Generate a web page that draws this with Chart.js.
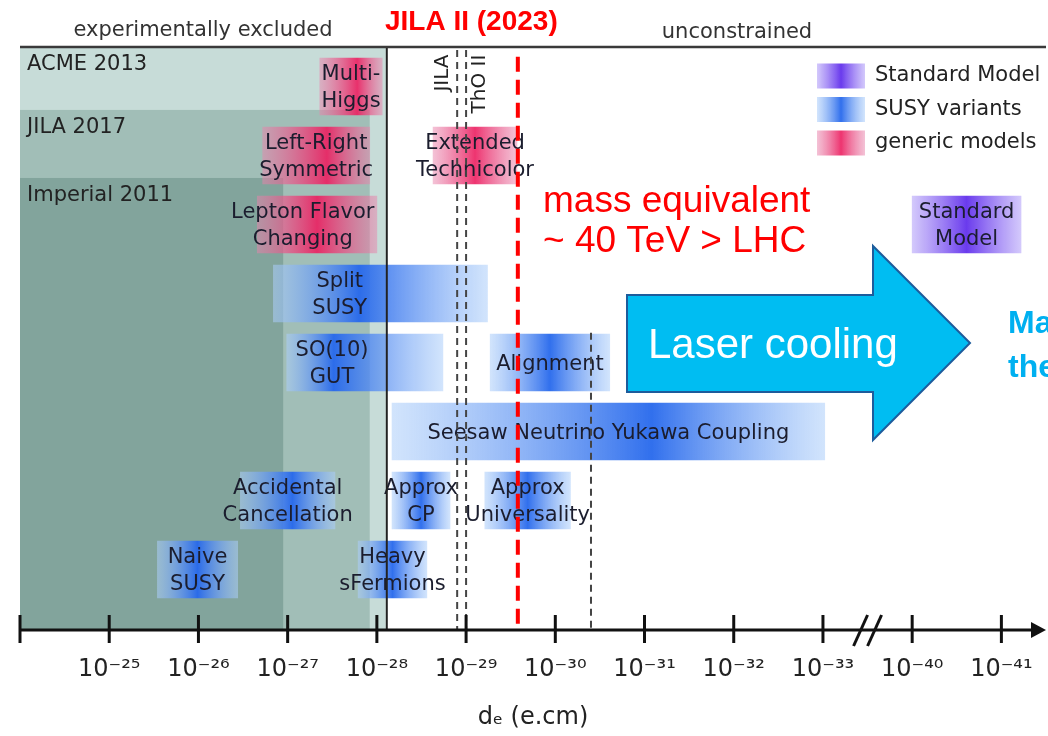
<!DOCTYPE html>
<html>
<head>
<meta charset="utf-8">
<title>Electron EDM - model landscape</title>
<script src="https://cdn.jsdelivr.net/npm/chart.js@4.4.0/dist/chart.umd.min.js"></script>
<style>
  html, body { margin: 0; padding: 0; background: #fff; }
  #wrap { width: 1048px; height: 736px; position: relative; }
</style>
</head>
<body>
<div id="wrap"><canvas id="edmChart"></canvas></div>
<script>
// ===============================
// DATA (values are log10 of d_e in e.cm)
// ===============================
const modelNames = [
  "Multi-\nHiggs", "Left-Right\nSymmetric", "Extended\nTechnicolor",
  "Lepton Flavor\nChanging", "Split\nSUSY", "SO(10)\nGUT", "Alignment",
  "Seesaw Neutrino Yukawa Coupling", "Accidental\nCancellation",
  "Approx\nCP", "Approx\nUniversality", "Naive\nSUSY", "Heavy\nsFermions",
  "Standard\nModel"
];
const modelFamily = [
  "generic", "generic", "generic", "generic", "susy", "susy", "susy",
  "susy", "susy", "susy", "susy", "susy", "susy", "sm"
];
const modelRow = [0, 1, 1, 2, 3, 4, 4, 5, 6, 6, 6, 7, 7, 2];
const modelFrom = [-27.36, -26.72, -28.63, -26.66, -26.84, -26.99, -29.27,
  -28.17, -26.47, -28.17, -29.21, -25.54, -27.79, -40.0];
const modelTo = [-28.06, -27.92, -29.57, -28.0, -29.24, -28.74, -30.61,
  -33.02, -27.53, -28.82, -30.17, -26.44, -28.56, -41.22];

// experimental limits (shaded = excluded)
const excludedNames = ["ACME 2013", "JILA 2017", "Imperial 2011"];
const excludedLimits = [-28.1, -27.92, -26.95];
const excludedTopRows = [-0.572, 0.34, 1.326];

// dashed limit lines
const dashedNames = ["JILA", "ThO II", ""];
const dashedLimits = [-28.9, -29.0, -30.4];
const dashedTopRows = [-0.53, -0.53, 3.57];
const jilaIILimit = -29.58;

// axis ticks
const tickExponents = [-24, -25, -26, -27, -28, -29, -30, -31, -32, -33, -40, -41];

const familyNames = ["sm", "susy", "generic"];
const familyLabels = ["Standard Model", "SUSY variants", "generic models"];

// ===============================
// STYLE
// ===============================
const familyColors = {
  sm: { core: "rgba(98, 48, 236, 0.95)", edge: "rgba(196, 182, 250, 0.75)" },
  susy: { core: "rgba(38, 104, 236, 0.95)", edge: "rgba(172, 206, 250, 0.55)" },
  generic: { core: "rgba(236, 30, 96, 0.9)", edge: "rgba(232, 132, 172, 0.5)" }
};
const gradientPeak = {
  "Multi-\nHiggs": 0.6, "Left-Right\nSymmetric": 0.6, "Split\nSUSY": 0.4,
  "SO(10)\nGUT": 0.3, "Seesaw Neutrino Yukawa Coupling": 0.6,
  "Accidental\nCancellation": 0.55
};
const labelAnchor = { "Split\nSUSY": 0.31, "SO(10)\nGUT": 0.29, "Lepton Flavor\nChanging": 0.38 };
const regionColors = ["#c7dcd8", "#a1beb7", "#82a49c"];
const SANS = "'DejaVu Sans', sans-serif";
const ARIAL = "'Liberation Sans', Arial, sans-serif";

// -------------------------------
// HELPERS
// -------------------------------
// the axis is broken between 10^-33 and 10^-40
function toAxis(exp) {
  const e = -exp;
  return e <= 36 ? e - 24 : e - 30;
}

const SUP = { "-": "\u207B", "0": "\u2070", "1": "\u00B9", "2": "\u00B2", "3": "\u00B3",
  "4": "\u2074", "5": "\u2075", "6": "\u2076", "7": "\u2077", "8": "\u2078", "9": "\u2079" };
function tickLabel(exp) {
  if (exp === -24) return "";
  return "10" + String(exp).split("").map((c) => SUP[c]).join("");
}

function boxGradient(ctx, x0, x1, fam, peak) {
  const g = ctx.createLinearGradient(x0, 0, x1, 0);
  g.addColorStop(0, fam.edge);
  g.addColorStop(peak, fam.core);
  g.addColorStop(1, fam.edge);
  return g;
}

// -------------------------------
// DATASETS (one per model family)
// -------------------------------
const datasets = familyNames.map((fam, fi) => ({
  label: familyLabels[fi],
  data: modelNames
    .map((name, i) => ({
      x: [toAxis(modelFrom[i]), toAxis(modelTo[i])],
      y: modelRow[i],
      name: name,
      fam: modelFamily[i]
    }))
    .filter((d) => d.fam === fam),
  grouped: false,
  barThickness: 57,
  borderWidth: 0,
  borderSkipped: false,
  backgroundColor: (c) => {
    const colors = familyColors[fam];
    if (!c.raw || !c.chart.scales.x) return colors.core;
    const xs = c.chart.scales.x;
    const x0 = xs.getPixelForValue(c.raw.x[0]);
    const x1 = xs.getPixelForValue(c.raw.x[1]);
    if (!isFinite(x0) || !isFinite(x1) || x0 === x1) return colors.core;
    return boxGradient(c.chart.ctx, x0, x1, colors, gradientPeak[c.raw.name] ?? 0.5);
  }
}));

// -------------------------------
// DECORATION PLUGIN
// -------------------------------
const edmDecor = {
  id: "edmDecor",
  beforeDatasetsDraw(chart) {
    const { ctx, chartArea: area } = chart;
    const x = chart.scales.x;
    const y = chart.scales.y;
    ctx.save();
    excludedNames.forEach((name, i) => {
      const right = x.getPixelForValue(toAxis(excludedLimits[i]));
      const top = y.getPixelForValue(excludedTopRows[i]);
      ctx.fillStyle = regionColors[i];
      ctx.fillRect(area.left, top, right - area.left, area.bottom - top);
    });
    ctx.fillStyle = "#222";
    ctx.font = "21px " + SANS;
    ctx.textAlign = "left";
    ctx.textBaseline = "alphabetic";
    excludedNames.forEach((name, i) => {
      const top = y.getPixelForValue(excludedTopRows[i]);
      ctx.fillText(name, area.left + 7, top + 23);
    });
    ctx.restore();
  },

  afterDatasetsDraw(chart) {
    const { ctx, chartArea: area } = chart;
    const x = chart.scales.x;
    const y = chart.scales.y;
    ctx.save();

    // box labels
    ctx.fillStyle = "#1b1d2e";
    ctx.font = "21px " + SANS;
    ctx.textAlign = "center";
    ctx.textBaseline = "middle";
    chart.data.datasets.forEach((ds) => {
      ds.data.forEach((d) => {
        const x0 = x.getPixelForValue(d.x[0]);
        const x1 = x.getPixelForValue(d.x[1]);
        const cx = x0 + (x1 - x0) * (labelAnchor[d.name] ?? 0.5);
        const cy = y.getPixelForValue(d.y) + 2;
        const lines = d.name.split("\n");
        lines.forEach((line, li) => {
          ctx.fillText(line, cx, cy + (li - (lines.length - 1) / 2) * 27);
        });
      });
    });

    // solid boundary of the excluded region
    const edgeX = x.getPixelForValue(toAxis(excludedLimits[0]));
    ctx.strokeStyle = "#222";
    ctx.lineWidth = 2;
    ctx.beginPath();
    ctx.moveTo(edgeX + 1, area.top);
    ctx.lineTo(edgeX + 1, area.bottom);
    ctx.stroke();

    // dashed limits
    ctx.strokeStyle = "#444";
    ctx.setLineDash([7, 5]);
    dashedLimits.forEach((lim, i) => {
      const px = x.getPixelForValue(toAxis(lim));
      ctx.beginPath();
      ctx.moveTo(px, y.getPixelForValue(dashedTopRows[i]));
      ctx.lineTo(px, area.bottom);
      ctx.stroke();
    });
    ctx.setLineDash([]);

    // rotated labels of the dashed limits
    ctx.fillStyle = "#222";
    ctx.font = "20px " + SANS;
    const rotPos = [[-14, 73], [14, 84]];
    dashedNames.forEach((name, i) => {
      if (!name) return;
      const px = x.getPixelForValue(toAxis(dashedLimits[i]));
      ctx.save();
      ctx.translate(px + rotPos[i][0], rotPos[i][1]);
      ctx.rotate(-Math.PI / 2);
      ctx.textAlign = "center";
      ctx.textBaseline = "middle";
      ctx.fillText(name, 0, 0);
      ctx.restore();
    });

    // JILA II (2023) red line
    const redX = x.getPixelForValue(toAxis(jilaIILimit));
    ctx.strokeStyle = "#ff0000";
    ctx.lineWidth = 4;
    ctx.setLineDash([15, 8]);
    ctx.beginPath();
    ctx.moveTo(redX, y.getPixelForValue(-0.43));
    ctx.lineTo(redX, area.bottom);
    ctx.stroke();
    ctx.setLineDash([]);

    // top line + header text
    ctx.strokeStyle = "#3a3a3a";
    ctx.lineWidth = 2.5;
    ctx.beginPath();
    ctx.moveTo(area.left, area.top);
    ctx.lineTo(area.right, area.top);
    ctx.stroke();

    ctx.fillStyle = "#333";
    ctx.font = "21px " + SANS;
    ctx.textAlign = "center";
    ctx.textBaseline = "alphabetic";
    ctx.fillText("experimentally excluded", 203, 36);
    ctx.fillText("unconstrained", 737, 38);

    ctx.fillStyle = "#ff0000";
    ctx.font = "bold 28px " + ARIAL;
    ctx.textAlign = "left";
    ctx.fillText("JILA II (2023)", 385, 30);

    ctx.font = "37px " + ARIAL;
    ctx.fillText("mass equivalent", 543, 212);
    ctx.fillText("~ 40 TeV > LHC", 543, 252);

    // legend
    ctx.font = "21px " + SANS;
    ctx.textBaseline = "middle";
    familyNames.forEach((fam, i) => {
      const cy = 76 + i * 33.5;
      ctx.fillStyle = boxGradient(ctx, 817, 865, familyColors[fam], 0.5);
      ctx.fillRect(817, cy - 12.5, 48, 25);
      ctx.fillStyle = "#222";
      ctx.fillText(familyLabels[i], 875, cy);
    });

    // laser cooling arrow
    ctx.beginPath();
    ctx.moveTo(627, 295);
    ctx.lineTo(873, 295);
    ctx.lineTo(873, 246);
    ctx.lineTo(970, 343);
    ctx.lineTo(873, 440);
    ctx.lineTo(873, 392);
    ctx.lineTo(627, 392);
    ctx.closePath();
    ctx.fillStyle = "#00bdf2";
    ctx.fill();
    ctx.strokeStyle = "#1d5c9c";
    ctx.lineWidth = 2;
    ctx.stroke();
    ctx.fillStyle = "#fff";
    ctx.font = "42px " + ARIAL;
    ctx.textBaseline = "alphabetic";
    ctx.fillText("Laser cooling", 648, 358);

    ctx.fillStyle = "#00b0f0";
    ctx.font = "bold 32px " + ARIAL;
    ctx.fillText("Ma", 1008, 333);
    ctx.fillText("the", 1008, 377);

    // x axis line, ticks, break and arrow head
    const axisY = area.bottom;
    ctx.strokeStyle = "#111";
    ctx.fillStyle = "#111";
    ctx.lineWidth = 3;
    ctx.beginPath();
    ctx.moveTo(area.left, axisY);
    ctx.lineTo(area.right - 10, axisY);
    ctx.stroke();
    x.ticks.forEach((t) => {
      const px = x.getPixelForValue(t.value);
      ctx.beginPath();
      ctx.moveTo(px, axisY - 15);
      ctx.lineTo(px, axisY + 13);
      ctx.stroke();
    });
    const brk = (x.getPixelForValue(toAxis(-33)) + x.getPixelForValue(toAxis(-40))) / 2;
    [-10, 4].forEach((dx) => {
      ctx.beginPath();
      ctx.moveTo(brk + dx - 4, axisY + 16);
      ctx.lineTo(brk + dx + 10, axisY - 15);
      ctx.stroke();
    });
    ctx.beginPath();
    ctx.moveTo(area.right, axisY);
    ctx.lineTo(area.right - 15, axisY - 8);
    ctx.lineTo(area.right - 15, axisY + 8);
    ctx.closePath();
    ctx.fill();

    ctx.restore();
  }
};

// -------------------------------
// CHART
// -------------------------------
const chart = new Chart(document.getElementById("edmChart"), {
  type: "bar",
  data: { datasets: datasets },
  options: {
    responsive: true,
    maintainAspectRatio: false,
    animation: false,
    events: [],
    indexAxis: "y",
    layout: { padding: { left: 20, right: 2, top: 47, bottom: 0 } },
    plugins: {
      legend: { display: false },
      tooltip: { enabled: false }
    },
    scales: {
      x: {
        type: "linear",
        min: 0,
        max: 11.5,
        // invisible tick marks only push the labels down
        grid: {
          display: true,
          drawOnChartArea: false,
          drawTicks: true,
          tickLength: 25,
          color: "rgba(0,0,0,0)"
        },
        border: { display: false },
        afterBuildTicks: (scale) => {
          scale.ticks = tickExponents.map((e) => ({ value: toAxis(e) }));
        },
        afterFit: (scale) => {
          scale.height = 106;
        },
        ticks: {
          autoSkip: false,
          maxRotation: 0,
          padding: 0,
          color: "#222",
          font: { family: SANS, size: 24 },
          callback: (value, index) => tickLabel(tickExponents[index])
        },
        title: {
          display: true,
          text: "d\u2091 (e.cm)",
          color: "#222",
          font: { family: SANS, size: 24 },
          padding: { top: 0, bottom: 4 }
        }
      },
      y: {
        type: "linear",
        reverse: true,
        offset: false,
        min: -0.572,
        max: 7.877,
        display: false
      }
    }
  },
  plugins: [edmDecor]
});
</script>
</body>
</html>
